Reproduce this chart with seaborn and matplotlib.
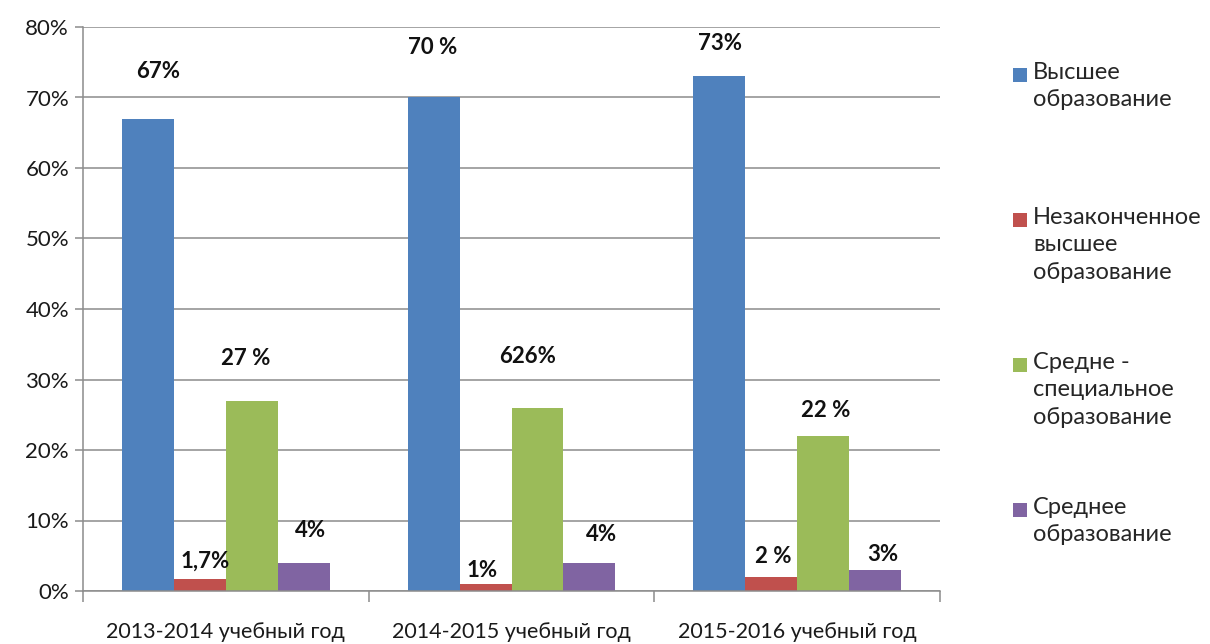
import matplotlib
matplotlib.use("Agg")
import matplotlib.pyplot as plt
from matplotlib.patches import Rectangle
import seaborn as sns
import pandas as pd

# --- data -------------------------------------------------------------
years = ["2013-2014 учебный год", "2014-2015 учебный год", "2015-2016 учебный год"]
series = ["Высшее образование", "Незаконченное высшее образование",
          "Средне - специальное образование", "Среднее образование"]
legend_labels = ["Высшее\nобразование", "Незаконченное\nвысшее\nобразование",
                 "Средне -\nспециальное\nобразование", "Среднее\nобразование"]
higher = [67, 70, 73]
incomplete_higher = [1.7, 1, 2]
vocational = [27, 26, 22]
secondary = [4, 4, 3]
value_texts = [["67%", "70 %", "73%"],
               ["1,7%", "1%", "2 %"],
               ["27 %", "626%", "22 %"],
               ["4%", "4%", "3%"]]
yticks = [0, 10, 20, 30, 40, 50, 60, 70, 80]

# label nudges (pixels) relative to each bar top
label_nudge = [[(10, 47), (-1, 50), (1, 33)],
               [(5, 18), (-3, 13), (2, 20)],
               [(-6, 42), (-10, 51), (3, 25)],
               [(7, 32), (12, 28), (8, 15)]]

colors = ["#4F81BD", "#C0504D", "#9BBB59", "#8064A2"]

df = pd.DataFrame({
    "year": years * 4,
    "series": sum([[s] * 3 for s in series], []),
    "value": higher + incomplete_higher + vocational + secondary,
})

sns.set_theme(style="white")
plt.rcParams["font.family"] = ["Lato", "DejaVu Sans"]

fig = plt.figure(figsize=(12.10, 6.44), dpi=100)
ax = fig.add_axes([83 / 1210, 53 / 644, 857 / 1210, 564 / 644])

sns.barplot(data=df, x="year", y="value", hue="series", order=years,
            hue_order=series, palette=colors, width=0.728, gap=0,
            saturation=1, ax=ax, legend=False, linewidth=0)

ax.set_xlim(-0.5, 2.5)
ax.set_ylim(0, 80)
ax.set_yticks(yticks)
ax.set_yticklabels([f"{t}%" for t in yticks], fontsize=16, color="#1a1a1a")
ax.set_xlabel("")
ax.set_ylabel("")
ax.yaxis.grid(True, color="#8c8c8c", linewidth=1.1)
ax.set_axisbelow(True)

for side in ["top", "right"]:
    ax.spines[side].set_visible(False)
for side in ["left", "bottom"]:
    ax.spines[side].set_color("#8c8c8c")
    ax.spines[side].set_linewidth(1.1)

ax.tick_params(axis="y", which="major", left=True, length=6, width=1.1,
               color="#8c8c8c", pad=4)
ax.set_xticks(range(len(years)))
ax.set_xticklabels(years, fontsize=15.5, color="#1a1a1a")
ax.tick_params(axis="x", which="major", bottom=False, pad=16)
ax.set_xticks([-0.5, 0.5, 1.5, 2.5], minor=True)
ax.tick_params(axis="x", which="minor", bottom=True, length=8, width=1.1,
               color="#8c8c8c")

# value labels above bars
for i, cont in enumerate(ax.containers):
    for j, bar in enumerate(cont):
        cx = bar.get_x() + bar.get_width() / 2
        top = bar.get_height()
        dx, dy = label_nudge[i][j]
        ax.annotate(value_texts[i][j], (cx, top), xytext=(dx, dy),
                    textcoords="offset pixels", ha="center", va="center",
                    fontsize=16, fontweight="bold", color="#111111")

# legend on the right, first lines evenly spaced
for k, (lab, col) in enumerate(zip(legend_labels, colors)):
    y_px = 75 + k * 145
    fig.patches.append(Rectangle((1013 / 1210, 1 - (y_px + 7) / 644), 14 / 1210, 14 / 644,
                                 transform=fig.transFigure, facecolor=col,
                                 edgecolor="none"))
    fig.text(1033 / 1210, 1 - (y_px - 13) / 644, lab, ha="left", va="top",
             fontsize=17, color="#262626", linespacing=1.38)

fig.savefig("out.png", dpi=100)
